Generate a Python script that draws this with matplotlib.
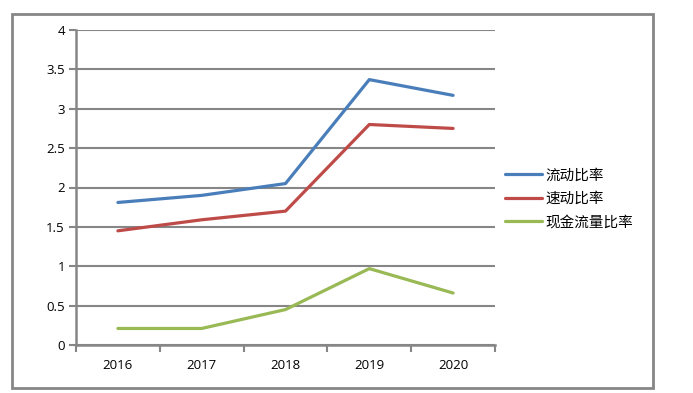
import matplotlib
matplotlib.use("Agg")
import matplotlib.pyplot as plt
from matplotlib.patches import Rectangle

plt.rcParams['font.family'] = ['Noto Sans CJK SC', 'DejaVu Sans']

years = ['2016', '2017', '2018', '2019', '2020']
current_ratio = [1.81, 1.90, 2.05, 3.37, 3.17]
quick_ratio = [1.45, 1.59, 1.70, 2.80, 2.75]
cash_flow_ratio = [0.21, 0.21, 0.45, 0.97, 0.66]
series_names = ['流动比率', '速动比率', '现金流量比率']
colors = ['#4A7EBB', '#BE4B48', '#98B954']

W, H = 693, 393
fig = plt.figure(figsize=(W / 100, H / 100), dpi=100)
ax = fig.add_axes([76 / W, (H - 345) / H, (495 - 76) / W, (345 - 30) / H])

x = list(range(len(years)))
for vals, name, c in zip([current_ratio, quick_ratio, cash_flow_ratio], series_names, colors):
    ax.plot(x, vals, color=c, lw=2.3, label=name, solid_capstyle='round')

gray = '#868686'
tick_font = {'family': ['Open Sans', 'DejaVu Sans']}
ax.set_xlim(-0.5, len(years) - 0.5)
ax.set_ylim(0, 4)
ax.set_yticks([i * 0.5 for i in range(9)])
ax.set_yticklabels(['0', '0.5', '1', '1.5', '2', '2.5', '3', '3.5', '4'], fontdict=tick_font)
ax.yaxis.grid(True, color=gray, lw=1.5)
ax.set_axisbelow(True)
ax.set_xticks(x)
ax.set_xticklabels(years, fontdict=tick_font)
ax.set_xticks([i - 0.5 for i in range(len(years) + 1)], minor=True)
ax.tick_params(axis='x', which='major', length=0, pad=10, labelsize=9.5, labelcolor='black')
ax.tick_params(axis='x', which='minor', length=5, width=1.5, color=gray)
ax.tick_params(axis='y', length=5, width=1.5, color=gray, labelsize=9.5, pad=3)
for s in ['top', 'right']:
    ax.spines[s].set_visible(False)
for s in ['left', 'bottom']:
    ax.spines[s].set_color(gray)
    ax.spines[s].set_linewidth(1.8)

fig.legend(loc='center left', bbox_to_anchor=(492 / W, 1 - 199 / H), frameon=False,
           fontsize=10.5, handlelength=2.5, handletextpad=0.25, labelspacing=0.65)

fig.patches.append(Rectangle((12 / W, 1 - 388 / H), (653 - 12) / W, (388 - 14) / H,
                             transform=fig.transFigure, fill=False, edgecolor=gray, lw=2))

fig.savefig('out.png', dpi=100)
